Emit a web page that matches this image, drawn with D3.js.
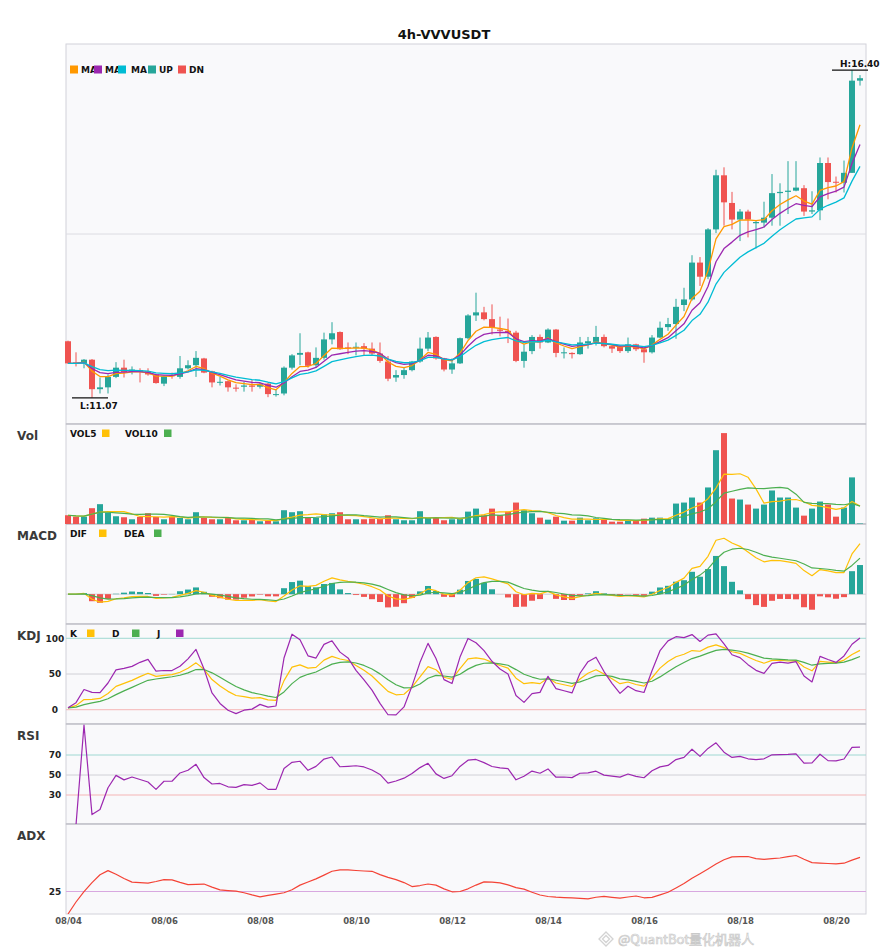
<!DOCTYPE html>
<html>
<head>
<meta charset="utf-8">
<script src="https://cdn.jsdelivr.net/npm/d3@7"></script>
<style>
  body { margin: 0; background: #fff; }
  svg { display: block; font-family: "DejaVu Sans", sans-serif; }
</style>
</head>
<body>
<svg id="chart"></svg>
<script>
// 4h candles, 2025-08-04 00:00 onwards
const symbol = '4h-VVVUSDT';
const startTime = new Date(2025, 7, 4, 0, 0);

const opens = [
  11.99, 11.645, 11.63, 11.69, 11.21, 11.24, 11.41, 11.56, 11.50, 11.52,
  11.50, 11.45, 11.30, 11.44, 11.41, 11.55, 11.60, 11.71, 11.50, 11.32,
  11.34, 11.235, 11.25, 11.27, 11.25, 11.30, 11.12, 11.14, 11.56, 11.77,
  11.81, 11.60, 11.72, 12.02, 12.14, 11.89, 11.885, 11.91, 11.87, 11.79,
  11.66, 11.40, 11.44, 11.52, 11.66, 11.87, 12.06, 11.71, 11.53, 11.63,
  12.04, 12.41, 12.46, 12.35, 12.18, 12.16, 12.13, 11.67, 11.83, 12.06,
  11.97, 12.18, 11.80, 11.80, 11.78, 11.955, 11.98, 12.06, 11.91, 11.90,
  11.83, 11.94, 11.86, 11.81, 12.05, 12.22, 12.27, 12.58, 12.67, 13.27,
  13.04, 13.81, 14.69, 14.24, 13.97, 14.10, 13.91, 13.92, 14.00, 14.40,
  14.42, 14.44, 14.48, 14.10, 14.12, 14.89, 14.585, 14.57, 14.73, 16.23,
];
const highs = [
  12.00, 11.81, 11.70, 11.70, 11.40, 11.45, 11.65, 11.69, 11.58, 11.55,
  11.55, 11.46, 11.43, 11.48, 11.75, 11.68, 11.83, 11.72, 11.51, 11.41,
  11.35, 11.29, 11.33, 11.36, 11.32, 11.31, 11.21, 11.58, 11.78, 12.12,
  11.82, 11.89, 12.13, 12.30, 12.15, 11.97, 11.97, 11.96, 11.97, 11.97,
  11.75, 11.52, 11.57, 11.67, 12.05, 12.14, 12.07, 11.72, 11.71, 12.05,
  12.43, 12.78, 12.55, 12.59, 12.39, 12.36, 12.16, 11.94, 12.09, 12.10,
  12.20, 12.19, 11.89, 11.81, 12.06, 12.06, 12.24, 12.10, 11.92, 11.92,
  12.05, 11.95, 11.87, 12.09, 12.31, 12.37, 12.68, 12.86, 13.39, 13.36,
  13.83, 14.78, 14.82, 14.42, 14.14, 14.13, 13.95, 14.26, 14.71, 14.56,
  14.92, 14.92, 14.53, 14.43, 14.98, 14.98, 14.67, 14.93, 16.40, 16.32,
];
const lows = [
  11.62, 11.58, 11.55, 11.07, 11.14, 11.14, 11.39, 11.40, 11.45, 11.32,
  11.43, 11.30, 11.26, 11.38, 11.38, 11.53, 11.41, 11.47, 11.24, 11.27,
  11.17, 11.17, 11.17, 11.17, 11.22, 11.08, 11.09, 11.11, 11.53, 11.60,
  11.56, 11.56, 11.69, 11.94, 11.85, 11.78, 11.76, 11.76, 11.76, 11.64,
  11.34, 11.33, 11.38, 11.50, 11.64, 11.83, 11.69, 11.50, 11.46, 11.62,
  12.02, 12.32, 12.33, 12.10, 12.07, 11.96, 11.65, 11.56, 11.78, 11.87,
  11.96, 11.73, 11.71, 11.71, 11.77, 11.87, 11.92, 11.89, 11.80, 11.80,
  11.80, 11.83, 11.64, 11.79, 12.04, 12.16, 12.03, 12.48, 12.65, 12.89,
  13.00, 13.75, 13.87, 13.81, 13.62, 13.68, 13.50, 13.84, 13.87, 13.87,
  14.06, 14.43, 14.03, 14.06, 13.96, 14.30, 14.41, 14.41, 14.73, 16.15,
];
const closes = [
  11.63, 11.63, 11.69, 11.21, 11.24, 11.41, 11.56, 11.49, 11.53, 11.49,
  11.45, 11.31, 11.42, 11.42, 11.55, 11.60, 11.72, 11.48, 11.32, 11.33,
  11.24, 11.225, 11.27, 11.25, 11.29, 11.13, 11.13, 11.56, 11.76, 11.80,
  11.59, 11.72, 12.02, 12.12, 11.86, 11.88, 11.90, 11.87, 11.79, 11.67,
  11.38, 11.44, 11.52, 11.66, 11.87, 12.05, 11.71, 11.53, 11.63, 12.04,
  12.41, 12.46, 12.35, 12.21, 12.16, 12.13, 11.67, 11.82, 12.06, 11.97,
  12.18, 11.80, 11.81, 11.78, 11.97, 11.99, 12.06, 11.91, 11.87, 11.83,
  11.94, 11.86, 11.81, 12.05, 12.21, 12.27, 12.55, 12.67, 13.27, 13.04,
  13.81, 14.69, 14.25, 13.97, 14.10, 13.97, 13.93, 14.00, 14.40, 14.42,
  14.44, 14.49, 14.10, 14.12, 14.89, 14.58, 14.57, 14.73, 16.23, 16.27,
];
const volumes = [
  87, 73, 73, 157, 197, 113, 77, 67, 47, 70,
  107, 70, 47, 70, 60, 47, 117, 60, 47, 47,
  60, 37, 37, 40, 27, 33, 27, 137, 117, 127,
  60, 63, 97, 107, 117, 47, 47, 47, 53, 53,
  87, 47, 37, 37, 127, 60, 60, 37, 47, 55,
  123, 153, 87, 153, 87, 123, 213, 137, 107, 63,
  43, 73, 33, 33, 63, 37, 57, 43, 23, 23,
  37, 37, 53, 63, 63, 50, 203, 213, 263, 213,
  363, 733, 903, 253, 243, 193, 153, 193, 333, 263,
  263, 163, 83, 153, 223, 193, 73, 163, 463, 5,
];
const maPeriods = [5, 8, 13];
const macdPeriods = [6, 13, 5];
const kdjLevels = [0, 50, 100];
const rsiLevels = [30, 50, 70];
const adxLevels = [25];

const UP = '#26a69a';
const DN = '#ef5350';
const maColors = ['#ff9800', '#9c27b0', '#00bcd4'];
const YEL = '#ffc107';
const GRN = '#4caf50';
const PUR = '#9c27b0';

const n = closes.length;
const times = closes.map((_, i) => d3.timeHour.offset(startTime, 4 * i));

// ---------- indicators ----------
function sma(arr, p) {
  return arr.map((_, i) => d3.mean(arr.slice(Math.max(0, i - p + 1), i + 1)));
}
function ema(arr, p) {
  const a = 2 / (p + 1);
  let e = arr[0];
  return arr.map((v, i) => (i === 0 ? e : (e = e + a * (v - e))));
}

const maLines = maPeriods.map((p) => ema(closes, p));
const vol5 = sma(volumes, 5);
const vol10 = sma(volumes, 10);

const emaFast = ema(closes, macdPeriods[0]);
const emaSlow = ema(closes, macdPeriods[1]);
const dif = emaFast.map((v, i) => v - emaSlow[i]);
const dea = ema(dif, macdPeriods[2]);
const hist = dif.map((v, i) => 2 * (v - dea[i]));

const kLine = [], dLine = [], jLine = [];
closes.forEach((c, i) => {
  const s = Math.max(0, i - 8);
  const hh = d3.max(highs.slice(s, i + 1));
  const ll = d3.min(lows.slice(s, i + 1));
  const rsv = hh === ll ? 50 : ((c - ll) / (hh - ll)) * 100;
  const k = i === 0 ? rsv : (2 / 3) * kLine[i - 1] + rsv / 3;
  const d = i === 0 ? rsv : (2 / 3) * dLine[i - 1] + k / 3;
  kLine.push(k);
  dLine.push(d);
  jLine.push(3 * k - 2 * d);
});

const rsi = [null];
let ag = 0, al = 0;
for (let i = 1; i < n; i++) {
  const ch = closes[i] - closes[i - 1];
  ag += (Math.max(ch, 0) - ag) / 14;
  al += (Math.max(-ch, 0) - al) / 14;
  rsi.push(ag + al === 0 ? 0 : (100 * ag) / (ag + al));
}

const adx = [0];
let sp = 0, sm = 0, ax = 0;
const aa = 2 / 15;
for (let i = 1; i < n; i++) {
  const up = highs[i] - highs[i - 1];
  const dn = lows[i - 1] - lows[i];
  const pdm = up > dn && up > 0 ? up : 0;
  const mdm = dn > up && dn > 0 ? dn : 0;
  sp += aa * (pdm - sp);
  sm += aa * (mdm - sm);
  const dx = sp + sm === 0 ? 0 : (100 * Math.abs(sp - sm)) / (sp + sm);
  ax += aa * (dx - ax);
  adx.push(ax);
}

// ---------- layout ----------
const W = 885, H = 950;
const left = 66, right = 866;
const panels = {
  main: { top: 44, height: 380 },
  vol: { top: 424, height: 100, label: 'Vol' },
  macd: { top: 524, height: 100, label: 'MACD' },
  kdj: { top: 624, height: 100, label: 'KDJ' },
  rsi: { top: 724, height: 100, label: 'RSI' },
  adx: { top: 824, height: 90, label: 'ADX' },
};
const bottomOf = (p) => p.top + p.height;

const svg = d3.select('#chart').attr('width', W).attr('height', H);

const x = d3.scaleTime().domain([times[0], times[n - 1]]).range([68, 860]);
const xi = (i) => x(times[i]);

const lo = d3.min(lows), hi = d3.max(highs);
const pad = (hi - lo) * 0.08;
const y = d3.scaleLinear().domain([lo - pad, hi + pad]).range([bottomOf(panels.main), panels.main.top]);
const yVol = d3.scaleLinear().domain([0, d3.max(volumes) * 1.1]).range([bottomOf(panels.vol), panels.vol.top]);
const macdAll = dif.concat(dea, hist);
const mMin = d3.min(macdAll), mMax = d3.max(macdAll), mR = mMax - mMin;
const yMacd = d3.scaleLinear().domain([mMin - 0.2 * mR, mMax + 0.2 * mR]).range([bottomOf(panels.macd), panels.macd.top]);
const yKdj = d3.scaleLinear().domain([-20, 120]).range([bottomOf(panels.kdj), panels.kdj.top]);
const yRsi = d3.scaleLinear().domain([0, 100]).range([bottomOf(panels.rsi) + 1, panels.rsi.top + 1]);
const yAdx = d3.scaleLinear().domain([0, 100]).range([bottomOf(panels.adx), panels.adx.top]);

// panel frames
Object.entries(panels).forEach(([key, p]) => {
  svg.append('rect')
    .attr('x', left).attr('y', p.top)
    .attr('width', right - left).attr('height', p.height)
    .attr('fill', '#f9f9fb')
    .attr('stroke', '#d2d2da');
  svg.append('clipPath').attr('id', 'clip-' + key)
    .append('rect')
    .attr('x', 40).attr('y', p.top)
    .attr('width', 840).attr('height', p.height);
});
Object.values(panels).forEach((p) => {
  if (p === panels.main) return;
  svg.append('line')
    .attr('x1', left).attr('x2', right)
    .attr('y1', p.top).attr('y2', p.top)
    .attr('stroke', '#b4b4bc');
});

function layer(key) {
  return svg.append('g').attr('clip-path', `url(#clip-${key})`);
}
function hline(g, yy, color) {
  g.append('line')
    .attr('x1', left).attr('x2', right)
    .attr('y1', yy).attr('y2', yy)
    .attr('stroke', color).attr('stroke-width', 1);
}
function series(g, values, scale, color, width) {
  const line = d3.line()
    .defined((d) => d != null)
    .x((d, i) => xi(i))
    .y((d) => scale(d));
  g.append('path')
    .datum(values)
    .attr('d', line)
    .attr('fill', 'none')
    .attr('stroke', color)
    .attr('stroke-width', width || 1.3)
    .attr('stroke-linejoin', 'round');
}

// ---------- main candles ----------
const gMain = layer('main');
hline(gMain, panels.main.top + panels.main.height / 2, '#dcdce2');

closes.forEach((c, i) => {
  const o = opens[i];
  const col = c >= o ? UP : DN;
  const cx = xi(i);
  gMain.append('line')
    .attr('x1', cx).attr('x2', cx)
    .attr('y1', y(highs[i])).attr('y2', y(lows[i]))
    .attr('stroke', col).attr('stroke-width', 1);
  const top = y(Math.max(o, c));
  gMain.append('rect')
    .attr('x', cx - 3).attr('width', 6)
    .attr('y', top)
    .attr('height', Math.max(1, y(Math.min(o, c)) - top))
    .attr('fill', col);
});
maLines.forEach((vals, k) => series(gMain, vals, y, maColors[k], 1.3));

// high / low markers
const iHi = d3.maxIndex(highs), iLo = d3.minIndex(lows);
[[iHi, highs[iHi], 'H', -3], [iLo, lows[iLo], 'L', 11]].forEach(([i, v, t, dy]) => {
  const cx = xi(i);
  svg.append('line')
    .attr('x1', cx - 20).attr('x2', cx + 16)
    .attr('y1', y(v)).attr('y2', y(v))
    .attr('stroke', '#111').attr('stroke-width', 1.2);
  svg.append('text')
    .attr('x', cx - 12).attr('y', y(v) + dy)
    .attr('font-size', 9).attr('font-weight', 'bold').attr('fill', '#111')
    .text(`${t}:${v.toFixed(2)}`);
});

// ---------- volume ----------
const gVol = layer('vol');
volumes.forEach((v, i) => {
  gVol.append('rect')
    .attr('x', xi(i) - 3).attr('width', 6)
    .attr('y', yVol(v))
    .attr('height', yVol(0) - yVol(v))
    .attr('fill', closes[i] >= opens[i] ? UP : DN);
});
series(gVol, vol5, yVol, YEL, 1.2);
series(gVol, vol10, yVol, GRN, 1.2);

// ---------- MACD ----------
const gMacd = layer('macd');
hline(gMacd, yMacd(0), '#d0d0d6');
hist.forEach((h, i) => {
  gMacd.append('rect')
    .attr('x', xi(i) - 3).attr('width', 6)
    .attr('y', Math.min(yMacd(h), yMacd(0)))
    .attr('height', Math.abs(yMacd(h) - yMacd(0)))
    .attr('fill', h >= 0 ? UP : DN);
});
series(gMacd, dif, yMacd, YEL, 1.2);
series(gMacd, dea, yMacd, GRN, 1.2);

// ---------- KDJ ----------
const gKdj = layer('kdj');
const levelColor = (v, lowV, highV) => (v === highV ? '#9fd8d2' : v === lowV ? '#f5b5b5' : '#d0d0d6');
kdjLevels.forEach((v) => hline(gKdj, yKdj(v), levelColor(v, 0, 100)));
series(gKdj, kLine, yKdj, YEL, 1.2);
series(gKdj, dLine, yKdj, GRN, 1.2);
series(gKdj, jLine, yKdj, PUR, 1.2);

// ---------- RSI ----------
const gRsi = layer('rsi');
rsiLevels.forEach((v) => hline(gRsi, yRsi(v), levelColor(v, 30, 70)));
series(gRsi, rsi, yRsi, PUR, 1.2);

// ---------- ADX ----------
const gAdx = layer('adx');
adxLevels.forEach((v) => hline(gAdx, yAdx(v), '#d8a8e0'));
series(gAdx, adx, yAdx, '#f44336', 1.2);

// ---------- level labels ----------
function levelLabels(levels, scale) {
  levels.forEach((v) => {
    svg.append('text')
      .attr('x', 55).attr('y', scale(v) + 3.3)
      .attr('text-anchor', 'middle')
      .attr('font-size', 9).attr('font-weight', 'bold').attr('fill', '#222')
      .text(v);
  });
}
levelLabels(kdjLevels, yKdj);
levelLabels(rsiLevels, yRsi);
levelLabels(adxLevels, yAdx);

// ---------- panel titles ----------
Object.values(panels).forEach((p) => {
  if (!p.label) return;
  svg.append('text')
    .attr('x', 17).attr('y', p.top + 15.5)
    .attr('font-size', 12).attr('font-weight', 'bold').attr('fill', '#3a3a3a')
    .text(p.label);
});

// ---------- legends ----------
function legend(items, yy, size) {
  items.forEach((it) => {
    svg.append('rect')
      .attr('x', it.x).attr('y', yy - size + 1)
      .attr('width', size).attr('height', size)
      .attr('fill', it.color);
    svg.append('text')
      .attr('x', it.tx).attr('y', yy)
      .attr('font-size', 9).attr('font-weight', 'bold').attr('fill', '#111')
      .text(it.label);
  });
}
legend([
  { x: 70, tx: 81, color: maColors[0], label: 'MA' },
  { x: 94, tx: 105, color: maColors[1], label: 'MA' },
  { x: 118, tx: 131, color: maColors[2], label: 'MA' },
  { x: 148, tx: 159, color: UP, label: 'UP' },
  { x: 178, tx: 189, color: DN, label: 'DN' },
], 72.5, 8);

function subLegend(items, p) {
  const yy = p.top + 13;
  items.forEach((it) => {
    svg.append('text')
      .attr('x', it.tx).attr('y', yy)
      .attr('font-size', 9).attr('font-weight', 'bold').attr('fill', '#111')
      .text(it.label);
    svg.append('rect')
      .attr('x', it.sx).attr('y', yy - 7.5)
      .attr('width', 7.5).attr('height', 7.5)
      .attr('fill', it.color);
  });
}
subLegend([
  { tx: 70, sx: 102, color: YEL, label: 'VOL5' },
  { tx: 125, sx: 164, color: GRN, label: 'VOL10' },
], panels.vol);
subLegend([
  { tx: 70, sx: 99, color: YEL, label: 'DIF' },
  { tx: 124, sx: 154, color: GRN, label: 'DEA' },
], panels.macd);
subLegend([
  { tx: 70, sx: 87, color: YEL, label: 'K' },
  { tx: 112, sx: 132, color: GRN, label: 'D' },
  { tx: 157, sx: 176, color: PUR, label: 'J' },
], panels.kdj);

// ---------- x axis ----------
const tickIdx = d3.range(0, n, 12);
const xAxis = d3.axisBottom(x)
  .tickValues(tickIdx.map((i) => times[i]))
  .tickFormat(d3.timeFormat('%m/%d'))
  .tickSize(0)
  .tickPadding(4);
const gx = svg.append('g')
  .attr('transform', `translate(0,${bottomOf(panels.adx)})`)
  .call(xAxis);
gx.select('.domain').remove();
gx.selectAll('text')
  .attr('font-family', '"DejaVu Sans", sans-serif')
  .attr('font-size', 8.5)
  .attr('font-weight', 'bold')
  .attr('fill', '#555');

// ---------- title ----------
svg.append('text')
  .attr('x', 444).attr('y', 39)
  .attr('text-anchor', 'middle')
  .attr('font-size', 13).attr('font-weight', 'bold').attr('fill', '#111')
  .text(symbol);

// ---------- watermark (kept below the date labels) ----------
const wm = svg.append('g').attr('opacity', 0.9);
wm.append('path')
  .attr('d', 'M606,932 L613,939 L606,946 L599,939 Z M606,935.5 L609.5,939 L606,942.5 L602.5,939 Z')
  .attr('fill', 'none').attr('stroke', '#cfcfcf').attr('stroke-width', 1.3);
wm.append('text')
  .attr('x', 618).attr('y', 944)
  .attr('font-family', '"Noto Sans CJK SC", "DejaVu Sans", sans-serif')
  .attr('font-size', 13)
  .attr('fill', '#ffffff')
  .attr('stroke', '#c4c4c4').attr('stroke-width', 0.7)
  .text('@QuantBot量化机器人');
</script>
</body>
</html>
